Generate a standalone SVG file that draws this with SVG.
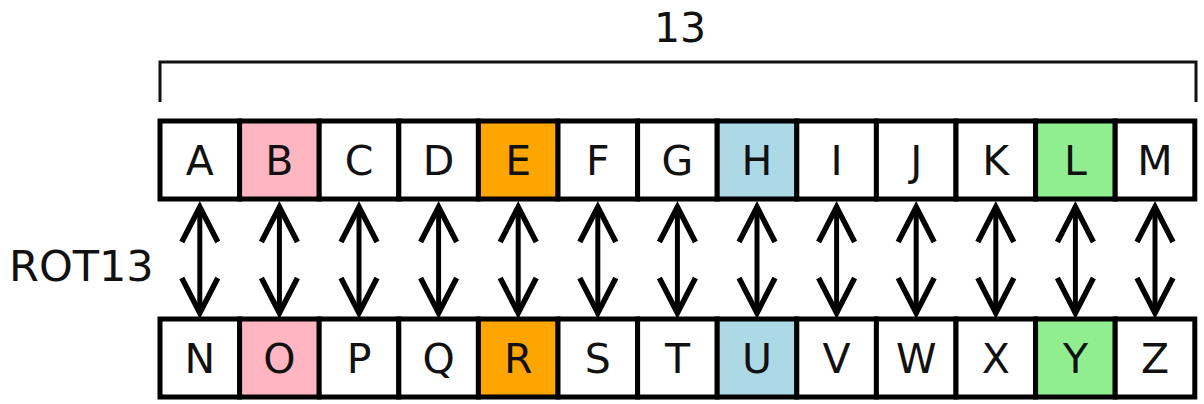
<svg xmlns="http://www.w3.org/2000/svg" width="1204" height="404" viewBox="0 0 1204 404">
<style>
.cell{stroke:#000;stroke-width:5;fill:#fff}
.pink{fill:#ffb6c1}.orange{fill:#ffa500}.blue{fill:#add8e6}.green{fill:#90ee90}
text{font-family:"DejaVu Sans","Liberation Sans",sans-serif;fill:#111;font-size:41px}
.lt{text-anchor:middle}
.arr{stroke:#000;stroke-width:5;fill:none;marker-start:url(#ah);marker-end:url(#ah)}
</style>
<defs>
<marker id="ah" markerUnits="userSpaceOnUse" markerWidth="80" markerHeight="80" refX="0" refY="0" orient="auto-start-reverse" overflow="visible">
<path d="M-35,-18 L0,0 L-35,18" fill="none" stroke="#000" stroke-width="5.5" stroke-linejoin="miter"/>
</marker>
</defs>
<rect width="1204" height="404" fill="#fff"/>
<g id="bracket">
<path d="M160,102 V62 H1196 V102" fill="none" stroke="#111" stroke-width="3"/>
<text x="680" y="42" class="lt">13</text>
</g>
<text id="rot13" x="9" y="281" style="font-size:43px">ROT13</text>
<g id="connectors">
<line class="arr" x1="199.8" y1="207" x2="199.8" y2="313"/>
<line class="arr" x1="279.4" y1="207" x2="279.4" y2="313"/>
<line class="arr" x1="359" y1="207" x2="359" y2="313"/>
<line class="arr" x1="438.6" y1="207" x2="438.6" y2="313"/>
<line class="arr" x1="518.2" y1="207" x2="518.2" y2="313"/>
<line class="arr" x1="597.8" y1="207" x2="597.8" y2="313"/>
<line class="arr" x1="677.4" y1="207" x2="677.4" y2="313"/>
<line class="arr" x1="757" y1="207" x2="757" y2="313"/>
<line class="arr" x1="836.6" y1="207" x2="836.6" y2="313"/>
<line class="arr" x1="916.2" y1="207" x2="916.2" y2="313"/>
<line class="arr" x1="995.8" y1="207" x2="995.8" y2="313"/>
<line class="arr" x1="1075.4" y1="207" x2="1075.4" y2="313"/>
<line class="arr" x1="1155" y1="207" x2="1155" y2="313"/>
</g>
<g id="top-row">
<g id="A"><rect class="cell" x="160" y="121" width="79.6" height="78"/><text class="lt" x="199.8" y="175">A</text></g>
<g id="B"><rect class="cell pink" x="239.6" y="121" width="79.6" height="78"/><text class="lt" x="279.4" y="175">B</text></g>
<g id="C"><rect class="cell" x="319.2" y="121" width="79.6" height="78"/><text class="lt" x="359" y="175">C</text></g>
<g id="D"><rect class="cell" x="398.8" y="121" width="79.6" height="78"/><text class="lt" x="438.6" y="175">D</text></g>
<g id="E"><rect class="cell orange" x="478.4" y="121" width="79.6" height="78"/><text class="lt" x="518.2" y="175">E</text></g>
<g id="F"><rect class="cell" x="558" y="121" width="79.6" height="78"/><text class="lt" x="597.8" y="175">F</text></g>
<g id="G"><rect class="cell" x="637.6" y="121" width="79.6" height="78"/><text class="lt" x="677.4" y="175">G</text></g>
<g id="H"><rect class="cell blue" x="717.2" y="121" width="79.6" height="78"/><text class="lt" x="757" y="175">H</text></g>
<g id="I"><rect class="cell" x="796.8" y="121" width="79.6" height="78"/><text class="lt" x="836.6" y="175">I</text></g>
<g id="J"><rect class="cell" x="876.4" y="121" width="79.6" height="78"/><text class="lt" x="916.2" y="175">J</text></g>
<g id="K"><rect class="cell" x="956" y="121" width="79.6" height="78"/><text class="lt" x="995.8" y="175">K</text></g>
<g id="L"><rect class="cell green" x="1035.6" y="121" width="79.6" height="78"/><text class="lt" x="1075.4" y="175">L</text></g>
<g id="M"><rect class="cell" x="1115.2" y="121" width="79.6" height="78"/><text class="lt" x="1155" y="175">M</text></g>
</g>
<g id="bottom-row">
<g id="N"><rect class="cell" x="160" y="319" width="79.6" height="78"/><text class="lt" x="199.8" y="373">N</text></g>
<g id="O"><rect class="cell pink" x="239.6" y="319" width="79.6" height="78"/><text class="lt" x="279.4" y="373">O</text></g>
<g id="P"><rect class="cell" x="319.2" y="319" width="79.6" height="78"/><text class="lt" x="359" y="373">P</text></g>
<g id="Q"><rect class="cell" x="398.8" y="319" width="79.6" height="78"/><text class="lt" x="438.6" y="373">Q</text></g>
<g id="R"><rect class="cell orange" x="478.4" y="319" width="79.6" height="78"/><text class="lt" x="518.2" y="373">R</text></g>
<g id="S"><rect class="cell" x="558" y="319" width="79.6" height="78"/><text class="lt" x="597.8" y="373">S</text></g>
<g id="T"><rect class="cell" x="637.6" y="319" width="79.6" height="78"/><text class="lt" x="677.4" y="373">T</text></g>
<g id="U"><rect class="cell blue" x="717.2" y="319" width="79.6" height="78"/><text class="lt" x="757" y="373">U</text></g>
<g id="V"><rect class="cell" x="796.8" y="319" width="79.6" height="78"/><text class="lt" x="836.6" y="373">V</text></g>
<g id="W"><rect class="cell" x="876.4" y="319" width="79.6" height="78"/><text class="lt" x="916.2" y="373">W</text></g>
<g id="X"><rect class="cell" x="956" y="319" width="79.6" height="78"/><text class="lt" x="995.8" y="373">X</text></g>
<g id="Y"><rect class="cell green" x="1035.6" y="319" width="79.6" height="78"/><text class="lt" x="1075.4" y="373">Y</text></g>
<g id="Z"><rect class="cell" x="1115.2" y="319" width="79.6" height="78"/><text class="lt" x="1155" y="373">Z</text></g>
</g>
</svg>
